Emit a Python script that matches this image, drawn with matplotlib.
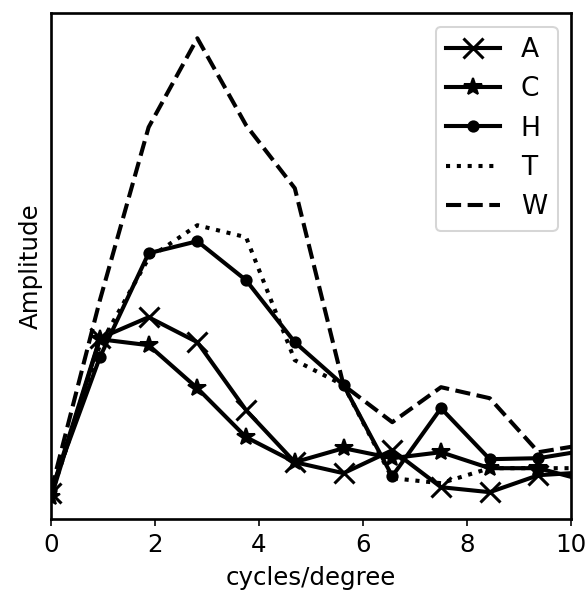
import matplotlib
matplotlib.use("Agg")
import matplotlib.pyplot as plt

plt.rcParams['font.size'] = 12
plt.rcParams['axes.linewidth'] = 1.3

# spatial frequencies (cycles/degree)
freqs = [0, 0.9375, 1.875, 2.8125, 3.75, 4.6875, 5.625, 6.5625, 7.5, 8.4375, 9.375, 10.3125]

# amplitude spectra (arbitrary units)
amp_a = [0.26, 1.81, 2.02, 1.77, 1.09, 0.57, 0.46, 0.69, 0.32, 0.27, 0.44, 0.47]
amp_c = [0.22, 1.80, 1.74, 1.31, 0.82, 0.57, 0.71, 0.61, 0.67, 0.51, 0.51, 0.38]
amp_h = [0.29, 1.62, 2.66, 2.78, 2.39, 1.77, 1.34, 0.43, 1.11, 0.60, 0.61, 0.69]
amp_t = [0.24, 1.74, 2.61, 2.94, 2.82, 1.59, 1.34, 0.41, 0.36, 0.51, 0.51, 0.51]
amp_w = [0.29, 2.19, 3.92, 4.81, 3.94, 3.31, 1.34, 0.97, 1.32, 1.21, 0.67, 0.75]

fig, ax = plt.subplots(figsize=(4, 603 / 147), dpi=147)
fig.subplots_adjust(left=0.087, right=0.971, bottom=0.139, top=0.978)

ax.plot(freqs, amp_a, color='black', lw=2, marker='x', ms=10, mew=1.5, label='A')
ax.plot(freqs, amp_c, color='black', lw=2, marker='*', ms=9, label='C')
ax.plot(freqs, amp_h, color='black', lw=2, marker='o', ms=5, label='H')
ax.plot(freqs, amp_t, color='black', lw=2, ls=':', label='T')
ax.plot(freqs, amp_w, color='black', lw=2, ls='--', label='W')

ax.set_xlim(0, 10)
ax.set_ylim(0, 5.06)
ax.set_yticks([])
ax.set_xlabel('cycles/degree')
ax.set_ylabel('Amplitude')
ax.legend(loc='upper right', fontsize=13)

fig.savefig('out.png', dpi=147)
